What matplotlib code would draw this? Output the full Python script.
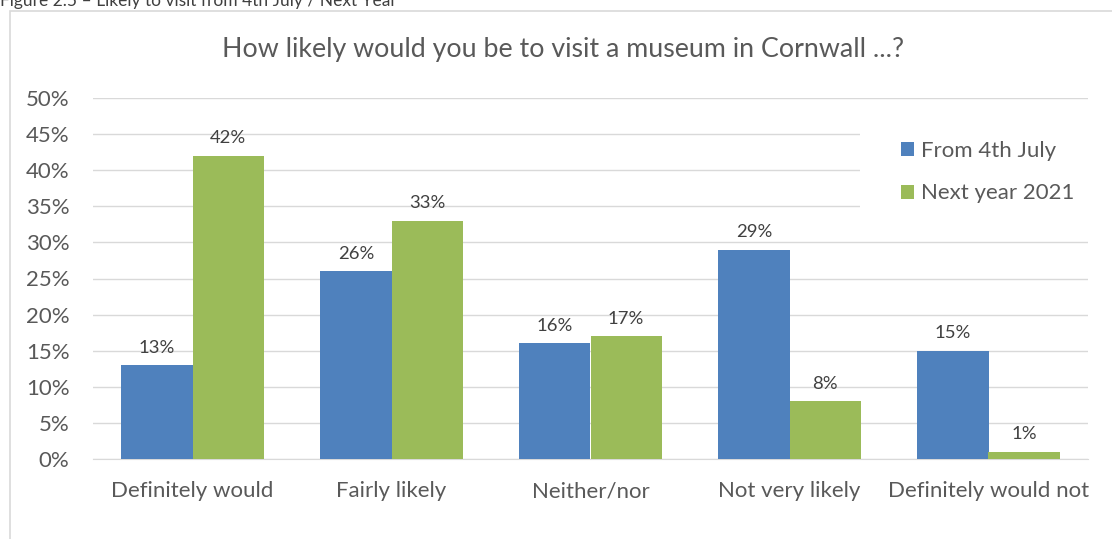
import matplotlib.pyplot as plt
import numpy as np
from matplotlib.patches import Rectangle

# survey answers, percent of respondents
categories = ["Definitely would", "Fairly likely", "Neither/nor",
              "Not very likely", "Definitely would not"]
from_july = [13, 26, 16, 29, 15]
next_year = [42, 33, 17, 8, 1]
series_names = ["From 4th July", "Next year 2021"]

txt = "#595959"
plt.rcParams['font.family'] = ['Lato', 'DejaVu Sans']

fig = plt.figure(figsize=(11.12, 5.39), dpi=100)
# outer chart frame
fig.patches.append(Rectangle((10 / 1112, -0.1), 1.2, (539 - 11) / 539 + 0.1,
                             transform=fig.transFigure, fill=False,
                             edgecolor="#d9d9d9", linewidth=1.2))
fig.text(0.0, 1 - 6 / 539, "Figure 2.5 \u2013 Likely to visit from 4th July / Next Year",
         fontsize=12.5, color="#404040", va="baseline", ha="left")

ax = fig.add_axes([93 / 1112, 80 / 539, (1088 - 93) / 1112, (459 - 98) / 539])
x = np.arange(len(categories))
w = 0.357
b1 = ax.bar(x - w / 2, from_july, w, color="#4F81BD", label=series_names[0], zorder=3)
b2 = ax.bar(x + w / 2, next_year, w, color="#9BBB59", label=series_names[1], zorder=3)

for bars, vals in ((b1, from_july), (b2, next_year)):
    for r, v in zip(bars, vals):
        ax.text(r.get_x() + r.get_width() / 2, v + 1.3, f"{v}%", ha="center",
                va="bottom", fontsize=13.3, color="#404040")

ax.set_xlim(-0.5, len(categories) - 0.5)
ax.set_ylim(0, 50)
ax.set_yticks(range(0, 51, 5))
ax.set_yticklabels([f"{t}%" for t in range(0, 51, 5)])
ax.set_xticks(x)
ax.set_xticklabels(categories)
ax.tick_params(axis="both", length=0, colors=txt, labelsize=16)
ax.tick_params(axis="x", pad=16)
ax.tick_params(axis="y", pad=17)
ax.grid(axis="y", color="#d9d9d9", linewidth=1, zorder=0)
for s in ("top", "right", "left"):
    ax.spines[s].set_visible(False)
ax.spines["bottom"].set_color("#d9d9d9")

fig.text(563 / 1112, 1 - 50 / 539, "How likely would you be to visit a museum in Cornwall ...?",
         fontsize=19.3, color=txt, ha="center", va="center")

# white legend area hides the gridlines behind it
ax.add_patch(Rectangle((0.771, 0.648), 0.25, 0.28, transform=ax.transAxes,
                       facecolor="white", edgecolor="none", zorder=2.2, clip_on=False))
leg = ax.legend(loc="upper left", bbox_to_anchor=(0.803, 0.905), frameon=False,
                fontsize=16, labelcolor=txt, handlelength=0.6, handleheight=0.6,
                handletextpad=0.3, labelspacing=1.0, borderaxespad=0)

fig.savefig("out.png", dpi=100)
